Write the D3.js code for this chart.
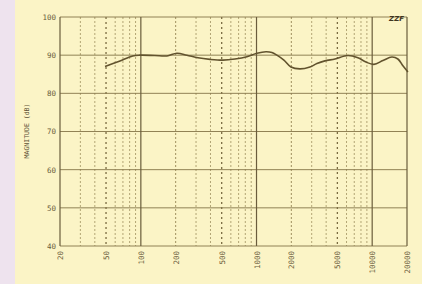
<!DOCTYPE html>
<html><head><meta charset="utf-8">
<script src="https://cdn.jsdelivr.net/npm/d3@7/dist/d3.min.js"></script>
<style>html,body{margin:0;padding:0;background:#fbf4c6;}svg{display:block}</style>
</head><body>
<script>
const freqs = [49,66,85,98,132,168,205,250,312,396,513,651,826,1009,1206,1359,1500,1725,1984,2373,2896,3327,3900,4765,6170,7530,8830,10350,12390,14800,16680,18440,20370];
const mags  = [87.0,88.5,89.8,90.0,89.9,89.8,90.5,90.0,89.3,88.9,88.7,89.0,89.6,90.5,90.9,90.7,90.0,88.7,86.9,86.4,86.9,87.8,88.5,89.0,89.9,89.3,88.2,87.6,88.6,89.5,89.0,87.2,85.6];
const xTickLabels = [20,50,100,200,500,1000,2000,5000,10000,20000];
const yTicks = [40,50,60,70,80,90,100];
const minorFreqs = [30,40,60,70,80,90,300,400,600,700,800,900,3000,4000,6000,7000,8000,9000];

const W=422,H=284;
const svg=d3.select("body").append("svg").attr("width",W).attr("height",H);
svg.append("rect").attr("width",W).attr("height",H).attr("fill","#fbf4c6");
svg.append("rect").attr("width",15).attr("height",H).attr("fill","#eee3ee");

const x=d3.scaleLog().domain([20,20000]).range([60,407]);
const y=d3.scaleLinear().domain([40,100]).range([246,17]);
const grid="#857548";
const g=svg.append("g");

g.selectAll(".mn").data(minorFreqs).enter().append("line")
 .attr("x1",d=>x(d)).attr("x2",d=>x(d)).attr("y1",y(100)).attr("y2",y(40))
 .attr("stroke","#a09060").attr("stroke-width",0.8).attr("stroke-dasharray","2,2");
g.selectAll(".md").data([200,2000]).enter().append("line")
 .attr("x1",d=>x(d)).attr("x2",d=>x(d)).attr("y1",y(100)).attr("y2",y(40))
 .attr("stroke","#958553").attr("stroke-width",0.9).attr("stroke-dasharray","2,2");
g.selectAll(".m5").data([50,500,5000]).enter().append("line")
 .attr("x1",d=>x(d)).attr("x2",d=>x(d)).attr("y1",y(100)).attr("y2",y(40))
 .attr("stroke","#7a6b42").attr("stroke-width",1.3).attr("stroke-dasharray","2,3");
g.selectAll(".h").data(yTicks).enter().append("line")
 .attr("x1",x(20)).attr("x2",x(20000)).attr("y1",d=>y(d)).attr("y2",d=>y(d))
 .attr("stroke",grid).attr("stroke-width",0.9);
g.selectAll(".dc").data([20,100,1000,10000,20000]).enter().append("line")
 .attr("x1",d=>x(d)).attr("x2",d=>x(d)).attr("y1",y(100)).attr("y2",y(40))
 .attr("stroke","#6a5c3c").attr("stroke-width",1.2);

const yAxis=d3.axisLeft(y).tickValues(yTicks).tickSize(0).tickPadding(4);
const ya=svg.append("g").attr("transform","translate(60,0)").call(yAxis);
ya.select(".domain").remove();
ya.selectAll("text").attr("font-family","DejaVu Sans Mono").attr("font-size",7.5).attr("fill","#6a5c3c");

const xAxis=d3.axisBottom(x).tickValues(xTickLabels).tickFormat(d3.format("d")).tickSize(0).tickPadding(0);
const xa=svg.append("g").attr("transform","translate(0,"+y(40)+")").call(xAxis);
xa.select(".domain").remove();
xa.selectAll("text").attr("font-family","DejaVu Sans Mono").attr("font-size",7.5).attr("fill","#6a5c3c")
 .attr("text-anchor","end").attr("dy","0.35em").attr("transform","translate(0,5) rotate(-90)").attr("y",0).attr("x",0);

svg.append("text").text("MAGNITUDE (dB)").attr("font-family","DejaVu Sans Mono").attr("font-size",6.5)
 .attr("fill","#5e5236").attr("text-anchor","middle").attr("transform","translate(29,131) rotate(-90)");

const line=d3.line().x((d,i)=>x(freqs[i])).y(d=>y(d)).curve(d3.curveCatmullRom);
svg.append("path").datum(mags).attr("d",line).attr("fill","none").attr("stroke","#62532e").attr("stroke-width",1.6);

svg.append("text").text("ZZF").attr("x",404).attr("y",21).attr("text-anchor","end")
 .attr("font-family","DejaVu Sans").attr("font-weight","bold").attr("font-style","italic").attr("font-size",7).attr("fill","#3e3420");
</script>
</body></html>
